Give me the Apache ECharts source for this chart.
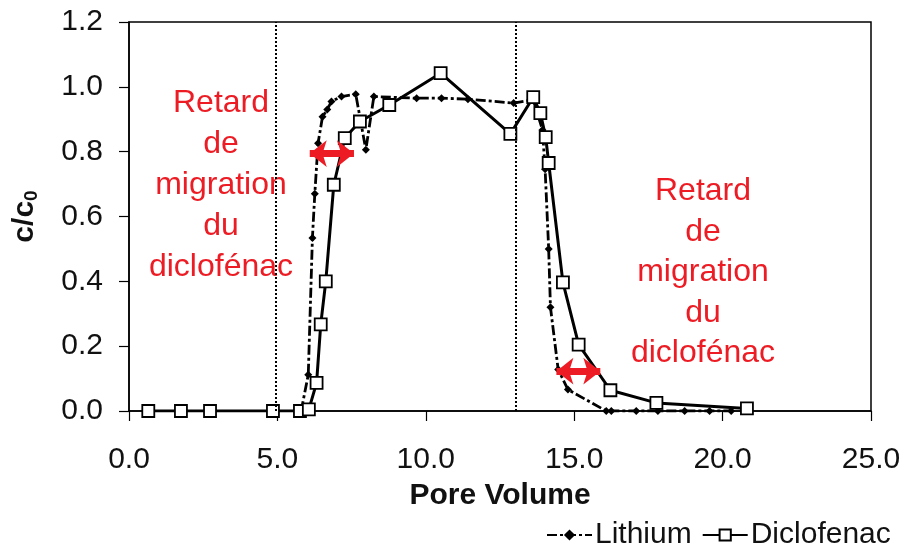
<!DOCTYPE html>
<html>
<head>
<meta charset="utf-8">
<title>Pore Volume - c/c0</title>
<script src="https://cdn.jsdelivr.net/npm/echarts@6/dist/echarts.min.js"></script>
<style>
    html, body { margin: 0; padding: 0; background: #fff; }
    #chart-container { width: 908px; height: 547px; }
</style>
</head>
<body>
<div id="chart-container"></div>
<script>
// 数据
const lithiumX = [5.80, 6.04, 6.18, 6.26, 6.37, 6.52, 6.68, 6.82, 7.16, 7.64, 7.98, 8.25, 9.69, 10.53, 11.42, 12.96, 13.62, 13.93, 14.02, 14.14, 14.20, 14.46, 14.79, 16.08, 16.25, 17.09, 17.82, 18.72, 19.56, 20.29];
const lithiumY = [0, 0.112, 0.534, 0.67, 0.826, 0.908, 0.93, 0.955, 0.97, 0.977, 0.806, 0.97, 0.965, 0.965, 0.962, 0.95, 0.96, 0.867, 0.746, 0.5, 0.32, 0.128, 0.066, 0, 0, 0, 0, 0, 0, 0];
const diclofenacX = [0.65, 1.75, 2.73, 4.85, 5.76, 6.06, 6.32, 6.46, 6.63, 6.90, 7.27, 7.78, 8.77, 10.50, 12.85, 13.62, 13.86, 14.04, 14.14, 14.62, 15.15, 16.22, 17.77, 20.82];
const diclofenacY = [0, 0, 0, 0, 0, 0.005, 0.087, 0.267, 0.40, 0.698, 0.842, 0.893, 0.944, 1.042, 0.855, 0.968, 0.919, 0.845, 0.765, 0.397, 0.205, 0.064, 0.025, 0.008];
const dottedLinesX = [4.94, 13.02];       // 竖直虚线
const leftArrowX = [6.09, 7.58];          // 红色双箭头
const leftArrowY = 0.794;
const rightArrowX = [14.4, 15.88];
const rightArrowY = 0.123;
const annotationText = ['Retard', 'de', 'migration', 'du', 'diclofénac'];

const RED = '#ed1c24';
const FONT = 'Liberation Sans';

const pairs = (xs, ys) => xs.map((x, i) => [x, ys[i]]);
const arrowLine = (xs, y) => [{ coord: [xs[0], y] }, { coord: [xs[1], y] }];

const chart = echarts.init(document.getElementById('chart-container'));

const option = {
    animation: false,
    textStyle: { fontFamily: FONT },
    grid: {
        left: 129,
        right: 37,
        top: 22,
        bottom: 136,
        show: true,
        borderColor: '#000',
        borderWidth: 1.5,
    },
    legend: {
        data: ['Lithium', 'Diclofenac'],
        left: 541,
        top: 515,
        itemWidth: 45,
        itemHeight: 14,
        itemGap: 10,
        textStyle: { fontSize: 30, color: '#111', fontFamily: FONT, padding: [0, 0, 0, -2] },
    },
    xAxis: {
        type: 'value',
        min: 0,
        max: 25,
        interval: 5,
        name: 'Pore Volume',
        nameLocation: 'middle',
        nameGap: 70,
        nameTextStyle: { fontSize: 30, fontWeight: 'bold', color: '#111' },
        axisLine: { onZero: false, lineStyle: { color: '#000', width: 1.5 } },
        axisTick: { length: 10, lineStyle: { color: '#000', width: 1.2 } },
        axisLabel: {
            fontSize: 30,
            color: '#111',
            margin: 34,
            formatter: v => v.toFixed(1),
        },
        splitLine: { show: false },
    },
    yAxis: {
        type: 'value',
        min: 0,
        max: 1.2,
        interval: 0.2,
        name: '{a|c/c}{b|0}',
        nameLocation: 'middle',
        nameGap: 88,
        nameRotate: 90,
        nameTextStyle: {
            rich: {
                a: { fontSize: 30, fontWeight: 'bold', color: '#111', fontFamily: FONT },
                b: { fontSize: 19, fontWeight: 'bold', color: '#111', fontFamily: FONT, verticalAlign: 'bottom', padding: [14, 0, 0, 0] },
            },
        },
        axisLine: { onZero: false, lineStyle: { color: '#000', width: 1.5 } },
        axisTick: { length: 10, lineStyle: { color: '#000', width: 1.2 } },
        axisLabel: {
            fontSize: 30,
            color: '#111',
            margin: 26,
            formatter: v => v.toFixed(1),
        },
        splitLine: { show: false },
    },
    series: [
        {
            name: 'Lithium',
            type: 'line',
            data: pairs(lithiumX, lithiumY),
            symbol: 'diamond',
            symbolSize: 8,
            itemStyle: { color: '#000' },
            lineStyle: { color: '#000', width: 2.8, type: [10, 3, 3, 3] },
            z: 3,
            markLine: {
                silent: true,
                symbol: ['none', 'none'],
                label: { show: false },
                lineStyle: { color: '#000', width: 2, type: 'dotted' },
                data: dottedLinesX.map(x => ({ xAxis: x })),
            },
        },
        {
            name: 'Diclofenac',
            type: 'line',
            data: pairs(diclofenacX, diclofenacY),
            symbol: 'rect',
            symbolSize: 12,
            itemStyle: { color: '#fff', borderColor: '#000', borderWidth: 1.8 },
            lineStyle: { color: '#000', width: 3 },
            z: 4,
            markLine: {
                silent: true,
                symbol: ['arrow', 'arrow'],
                symbolSize: [20, 17],
                label: { show: false },
                lineStyle: { color: RED, width: 7, type: 'solid' },
                data: [arrowLine(leftArrowX, leftArrowY), arrowLine(rightArrowX, rightArrowY)],
                z: 10,
            },
        },
    ],
    // 红色注释文字
    graphic: [
        {
            type: 'text',
            x: 221,
            y: 83,
            style: {
                text: annotationText.join('\n'),
                font: `32px "${FONT}"`,
                fill: RED,
                align: 'center',
                verticalAlign: 'top',
                lineHeight: 41,
            },
        },
        {
            type: 'text',
            x: 703,
            y: 171,
            style: {
                text: annotationText.join('\n'),
                font: `32px "${FONT}"`,
                fill: RED,
                align: 'center',
                verticalAlign: 'top',
                lineHeight: 40.5,
            },
        },
    ],
};

chart.setOption(option);
</script>
</body>
</html>
